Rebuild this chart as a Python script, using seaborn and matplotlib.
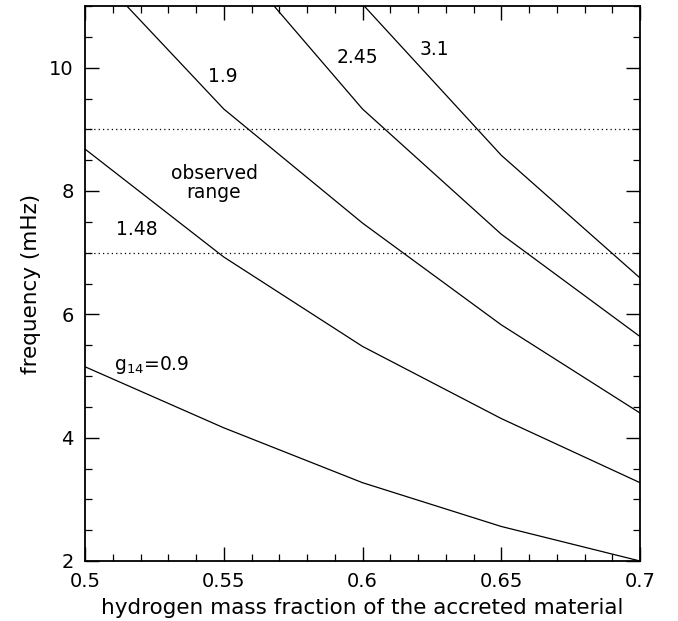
import matplotlib
matplotlib.use("Agg")
import matplotlib.pyplot as plt
from matplotlib.ticker import MultipleLocator
import numpy as np
import pandas as pd
import seaborn as sns

# Hydrogen mass fraction grid and mode frequency (mHz) for each surface gravity g14
hydrogen = [0.50, 0.55, 0.60, 0.65, 0.70]
freq_g090 = [5.15, 4.16, 3.27, 2.56, 2.00]
freq_g148 = [8.68, 6.93, 5.48, 4.31, 3.27]
freq_g190 = [11.72, 9.33, 7.48, 5.83, 4.40]
freq_g245 = [np.nan, 11.95, 9.33, 7.30, 5.64]
freq_g310 = [np.nan, np.nan, 11.03, 8.58, 6.59]
gravity = ["0.9", "1.48", "1.9", "2.45", "3.1"]

# Observed frequency range (mHz)
observed_low, observed_high = 7.0, 9.0

rows = []
for g, series in zip(gravity, [freq_g090, freq_g148, freq_g190, freq_g245, freq_g310]):
    for x, f in zip(hydrogen, series):
        if not np.isnan(f):
            rows.append({"X": x, "freq": f, "g14": g})
df = pd.DataFrame(rows)

sns.set_style("ticks")
plt.rcParams["font.family"] = ["DejaVu Sans"]
plt.rcParams.update({
    "text.color": "black",
    "axes.labelcolor": "black",
    "xtick.color": "black",
    "ytick.color": "black",
    "axes.edgecolor": "black",
})

fig = plt.figure(figsize=(6.78, 6.21), dpi=100)
ax = fig.add_axes([85 / 678, 1 - 561 / 621, 555 / 678, 555 / 621])

sns.lineplot(data=df, x="X", y="freq", units="g14", estimator=None,
             color="black", linewidth=0.9, ax=ax, legend=False)

for level in (observed_low, observed_high):
    ax.axhline(level, color="black", linestyle=(0, (1, 2.5)), linewidth=0.9)

ax.set_xlim(0.5, 0.7)
ax.set_ylim(2, 11)
ax.xaxis.set_major_locator(MultipleLocator(0.05))
ax.xaxis.set_minor_locator(MultipleLocator(0.01))
ax.yaxis.set_major_locator(MultipleLocator(2))
ax.yaxis.set_minor_locator(MultipleLocator(0.5))
ax.set_xticks([0.5, 0.55, 0.6, 0.65, 0.7])
ax.set_xticklabels(["0.5", "0.55", "0.6", "0.65", "0.7"])

ax.tick_params(which="both", direction="in", top=True, right=True,
               color="black", labelcolor="black")
ax.tick_params(which="major", length=10, width=1.0, labelsize=14, pad=8)
ax.tick_params(which="minor", length=5, width=0.9)
for spine in ax.spines.values():
    spine.set_linewidth(1.3)
    spine.set_color("black")

ax.set_xlabel("hydrogen mass fraction of the accreted material", fontsize=15.5,
              labelpad=5, color="black")
ax.set_ylabel("frequency (mHz)", fontsize=15.5, labelpad=6, color="black")

text_kw = dict(fontsize=13.5, ha="center", va="center", color="black")
ax.text(0.5497, 9.86, "1.9", **text_kw)
ax.text(0.598, 10.16, "2.45", **text_kw)
ax.text(0.6258, 10.29, "3.1", **text_kw)
ax.text(0.5187, 7.38, "1.48", **text_kw)
ax.text(0.5465, 8.13, "observed\nrange", linespacing=1.0, **text_kw)
ax.text(0.524, 5.18, r"g$_{14}$=0.9", **text_kw)

fig.savefig("out.png", dpi=100)
